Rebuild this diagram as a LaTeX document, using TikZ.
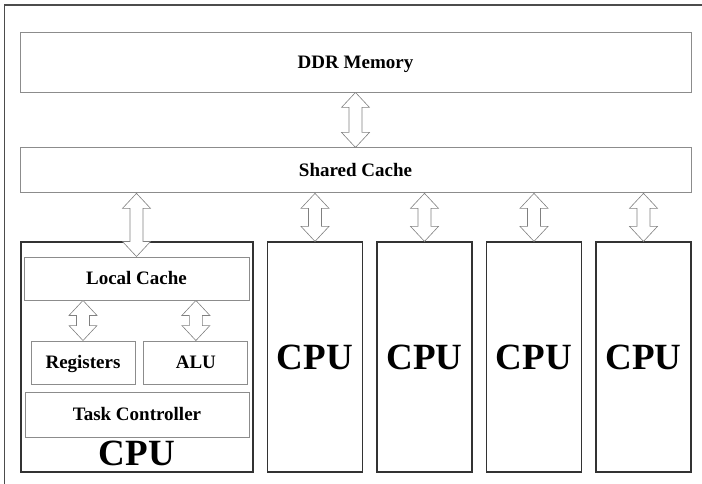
\documentclass[tikz,border=0pt]{standalone}
\usepackage{fontspec}
\setmainfont{Liberation Serif}
\usetikzlibrary{positioning,calc}

% block double arrow from the bottom of #1 down to the top of #2
\newcommand{\busarrow}[2]{%
  \draw[bus] let \p1=(#1.south -| #2.north), \p2=(#2.north) in
    (\x1,\y1) -- (\x1+14pt,\y1-15pt) -- (\x1+6.5pt,\y1-15pt)
    -- (\x1+6.5pt,\y2+15pt) -- (\x1+14pt,\y2+15pt) -- (\x2,\y2)
    -- (\x1-14pt,\y2+15pt) -- (\x1-6.5pt,\y2+15pt)
    -- (\x1-6.5pt,\y1-15pt) -- (\x1-14pt,\y1-15pt) -- cycle;}

\begin{document}
\begin{tikzpicture}[x=1pt, y=-1pt, node distance=13.3pt,
    frame/.style={draw=black!70, line width=1.4pt},
    box/.style={rectangle, draw=black!45, line width=0.9pt, inner sep=0pt,
                 text height=12.5pt, text depth=0pt,
                 font=\bfseries\fontsize{19}{22}\selectfont},
    cpufont/.style={text height=24.5pt, text depth=0pt,
                    font=\bfseries\fontsize{37}{40}\selectfont},
    cpubox/.style={rectangle, draw=black!80, line width=1.2pt, inner sep=0pt,
                   minimum width=95pt, minimum height=230pt, cpufont},
    bus/.style={draw=black!50, line width=0.6pt, fill=white}]
  \useasboundingbox (0,0) rectangle (702,484);
  \draw[frame] (702,5) -- (4.5,5) -- (4.5,484);

  \node (ddr) [box, minimum width=671pt, minimum height=60pt]
        at (355.5,62) {DDR Memory};
  \node (shared) [box, minimum width=671pt, minimum height=45pt]
        [below=55pt of ddr] {Shared Cache};

  \node (cpu1) [cpubox, minimum width=232pt] at (137,357) {};
  \node (local) [box, minimum width=225pt, minimum height=43pt]
        at (136.5,278.5) {Local Cache};
  \node (registers) [box, minimum width=104pt, minimum height=43pt]
        at (83,362.5) {Registers};
  \node (alu) [box, minimum width=104pt, minimum height=43pt]
        [right=8pt of registers] {ALU};
  \node (task) [box, minimum width=224pt, minimum height=45pt]
        at (137,414.5) {Task Controller};
  \node (cpu1_label) [cpufont] at (137,453) {CPU};

  \node (cpu2) [cpubox, right=of cpu1] {CPU};
  \node (cpu3) [cpubox, right=of cpu2] {CPU};
  \node (cpu4) [cpubox, right=of cpu3] {CPU};
  \node (cpu5) [cpubox, right=of cpu4] {CPU};

  \busarrow{ddr}{shared}
  \busarrow{shared}{local}
  \foreach \c in {cpu2,cpu3,cpu4,cpu5}
    {\busarrow{shared}{\c}}
  \busarrow{local}{registers}
  \busarrow{local}{alu}
\end{tikzpicture}
\end{document}
